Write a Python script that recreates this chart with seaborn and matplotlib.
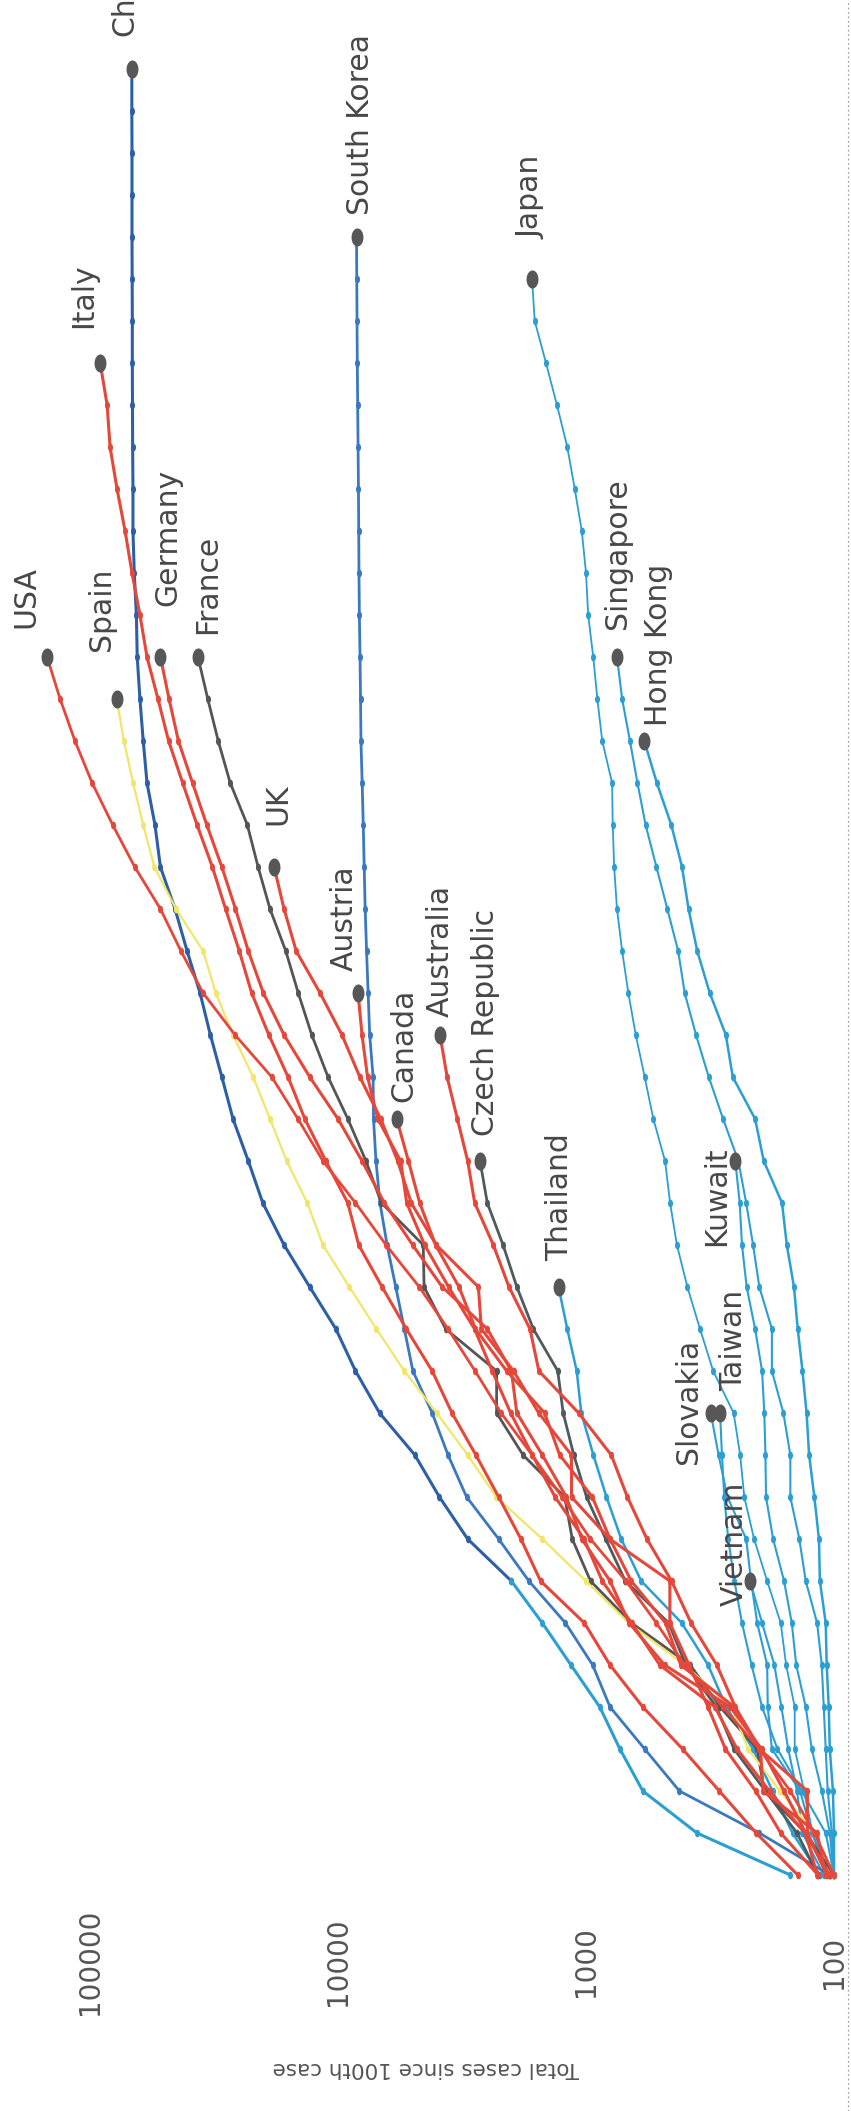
import numpy as np
import pandas as pd
import matplotlib
matplotlib.use("Agg")
import matplotlib.pyplot as plt
from matplotlib.path import Path
from matplotlib.markers import MarkerStyle
from matplotlib.lines import Line2D
from matplotlib.ticker import NullLocator, FixedLocator, FixedFormatter
import seaborn as sns

# Total cases by day, counted from each country's 100th case
china = [150, 357, 590, 730, 880, 1150, 1500, 2000, 3000, 3900, 4900, 6800, 8500, 10200,
         13000, 16500, 20100, 23000, 26500, 29400, 32700, 36000, 40600, 45400, 52000, 54700,
         58900, 61000, 62900, 64500, 65000, 66300, 67100, 67100, 67300, 67400, 67500, 67500,
         67600, 67700, 67700, 67700, 67800, 67800]
south_korea = [104, 200, 420, 580, 800, 940, 1210, 1700, 2250, 3030, 3600, 4170, 4990, 5400,
               5850, 6340, 6770, 7030, 7190, 7220, 7450, 7560, 7670, 7770, 7840, 7910, 7990,
               8080, 8110, 8150, 8200, 8230, 8250, 8270, 8300, 8330, 8360, 8380, 8400, 8420]
japan = [105, 122, 132, 144, 144, 156, 164, 186, 210, 230, 239, 254, 307, 347, 390, 430, 458,
         480, 535, 580, 630, 675, 715, 750, 770, 780, 785, 860, 900, 935, 980, 1000, 1040,
         1110, 1190, 1310, 1450, 1610, 1650]
italy = [140, 206, 290, 408, 590, 800, 1015, 1525, 1830, 2250, 2780, 3470, 4170, 5300, 6640,
         8250, 9130, 11200, 13600, 15900, 19000, 22300, 25000, 28400, 32100, 37000, 42300,
         48200, 53200, 58900, 62900, 67700, 72200, 77800, 83000, 85300, 91000]
usa = [100, 120, 150, 200, 280, 400, 520, 690, 960, 1250, 1650, 2200, 2800, 3600, 4700, 6400,
       8500, 11500, 14500, 18500, 26000, 35000, 43000, 52000, 66000, 81000, 98000, 115000,
       132000, 149000]
spain = [100, 120, 165, 222, 259, 400, 673, 1000, 1500, 2300, 3000, 4000, 5400, 7000, 9000,
         11500, 13300, 16100, 18800, 22000, 26500, 31100, 35000, 45000, 55000, 61000, 67000,
         73000, 78000]
germany = [117, 130, 159, 196, 262, 482, 670, 800, 1040, 1200, 1500, 1900, 2000, 2500, 3800,
           5000, 6500, 8000, 10000, 13000, 16500, 20000, 23000, 25900, 29400, 33800, 38600,
           44000, 48000, 52000]
france = [100, 130, 191, 204, 288, 380, 656, 959, 1136, 1219, 1794, 2293, 2293, 3681, 4496,
          4532, 6683, 7715, 9124, 10970, 12758, 14463, 16243, 18800, 21000, 23200, 27200,
          30400, 33500, 36700]
uk = [116, 164, 207, 274, 322, 384, 459, 459, 802, 1144, 1145, 1551, 1960, 2642, 2716, 4014,
      5067, 5745, 6726, 8164, 9640, 11812, 14745, 16500, 18100]
austria = [104, 131, 182, 246, 302, 504, 655, 860, 1018, 1332, 1646, 2013, 2388, 2814, 3582,
           4474, 5283, 5588, 6909, 7600, 8000, 8300]
canada = [108, 117, 193, 198, 252, 415, 478, 657, 800, 943, 1277, 1469, 2088, 2790, 3251,
          4042, 4682, 5200, 5800]
australia = [107, 128, 128, 200, 250, 297, 377, 452, 568, 681, 791, 1071, 1549, 1682, 2044,
             2364, 2810, 3000, 3300, 3630, 3880]
czech_republic = [116, 141, 189, 253, 298, 396, 464, 694, 833, 995, 1120, 1236, 1300, 1630,
                  1900, 2160, 2500, 2675]
thailand = [114, 147, 177, 212, 272, 322, 411, 599, 721, 827, 934, 1045, 1090, 1190, 1290]
singapore = [100, 102, 106, 108, 110, 112, 117, 130, 138, 150, 150, 160, 178, 178, 200, 212,
             226, 243, 280, 320, 360, 400, 425, 470, 520, 575, 620, 665, 715, 750]
hong_kong = [100, 100, 101, 104, 105, 107, 108, 114, 115, 120, 126, 129, 134, 140, 145, 155,
             162, 192, 208, 256, 273, 317, 356, 386, 410, 453, 518, 582]
kuwait = [100, 104, 112, 123, 130, 142, 148, 159, 176, 188, 189, 191, 195, 208, 225, 235,
          240, 250]
slovakia = [105, 123, 137, 178, 185, 186, 204, 216, 226, 269, 292, 314]
taiwan = [100, 108, 135, 169, 195, 215, 235, 252, 267, 277, 283, 288]
vietnam = [110, 134, 141, 153, 163, 174, 195, 218]

tick_values = [100, 1000, 10000, 100000]
tick_labels = ["100", "1000", "10000", "100000"]
axis_title = "Total cases since 100th case"

RED = "#e5473a"
LBLUE = "#2b9ed4"
GREY = "#555555"

# name, values, colour, line width, label offset (pixels, right edge / bottom of rotated label)
series = [
    ("Vietnam", vietnam, LBLUE, 1.5, (-1, -25)),
    ("Taiwan", taiwan, LBLUE, 1.5, (28, 22)),
    ("Slovakia", slovakia, LBLUE, 1.5, (-8, -51)),
    ("Kuwait", kuwait, LBLUE, 1.5, (-4, -85)),
    ("Hong Kong", hong_kong, LBLUE, 1.8, (29, 15)),
    ("Singapore", singapore, LBLUE, 1.5, (15, 28)),
    ("Japan", japan, LBLUE, 1.3, (13, 40)),
    ("Thailand", thailand, LBLUE, 1.8, (16, 26)),
    ("South Korea", south_korea, "#3a79c0", 2.0, (18, 22)),
    ("China", china, "#2d5fa6", 2.2, (8, 33)),
    ("Czech Republic", czech_republic, "#4f5a5c", 2.0, (20, 25)),
    ("France", france, GREY, 2.0, (24, 23)),
    ("Spain", spain, "#f1e66a", 1.6, (-1, 48)),
    ("Australia", australia, RED, 2.2, (15, 18)),
    ("Canada", canada, RED, 2.2, (22, 17)),
    ("Austria", austria, RED, 2.2, (1, 22)),
    ("UK", uk, RED, 2.2, (18, 42)),
    ("Germany", germany, RED, 2.2, (22, 51)),
    ("Italy", italy, RED, 2.2, (-2, 35)),
    ("USA", usa, RED, 2.0, (-7, 29)),
]
# the opening days of the China line are printed in the lighter blue
china_early_days = 8

rows = []
for name, vals, *_ in series:
    for day, v in enumerate(vals):
        rows.append((name, day, v))
df = pd.DataFrame(rows, columns=["country", "day", "cases"])

sns.set_style("white")
plt.rcParams["font.family"] = ["DejaVu Sans"]

W, H = 851, 2111
fig = plt.figure(figsize=(W / 100, H / 100), dpi=100)
fig.patch.set_facecolor("white")
ax_bottom_px = 1900
ax = fig.add_axes([0, (H - ax_bottom_px) / H, 1, ax_bottom_px / H])
ax.set_facecolor("white")
ax.set_xscale("log")

# vertically stretched dot used for day markers and end points
t = np.linspace(0, 2 * np.pi, 48)
ellipse = Path(np.column_stack([0.66 * np.cos(t), np.sin(t)]))
dot = MarkerStyle(ellipse)


def draw_line(frame, colour, lw):
    sns.lineplot(data=frame, x="cases", y="day", orient="y", sort=False, estimator=None,
                 color=colour, linewidth=lw, marker=dot, markersize=5.5,
                 markeredgewidth=0, legend=False, ax=ax)


for name, vals, colour, lw, _ in series:
    sub = df[df.country == name]
    if name == "China":
        draw_line(sub[sub.day >= china_early_days - 1], colour, lw)
        draw_line(sub[sub.day <= china_early_days - 1], LBLUE, lw)
    else:
        draw_line(sub, colour, lw)

for name, vals, colour, lw, (dx, dy) in series:
    last_day = len(vals) - 1
    ax.plot([vals[-1]], [last_day], linestyle="none", marker=dot, markersize=13,
            color="#575757", markeredgewidth=0, zorder=6)
    ax.annotate(name, xy=(vals[-1], last_day), xytext=(dx, dy), textcoords="offset pixels",
                rotation=90, ha="right", va="bottom", fontsize=21.5, color="#474747",
                annotation_clip=False, zorder=7)

# log axis running right-to-left, days running upward
ax.set_xlim(230600, 85.4)
ax.set_ylim(-0.595, 44.64)
ax.xaxis.set_major_locator(FixedLocator(tick_values))
ax.xaxis.set_major_formatter(FixedFormatter(tick_labels))
ax.xaxis.set_minor_locator(NullLocator())
ax.set_yticks([])
ax.tick_params(axis="x", length=0, pad=44.6, labelsize=20, labelcolor="#555555")
for lbl in ax.get_xticklabels():
    lbl.set_rotation(90)
    lbl.set_va("center")
    lbl.set_ha("center")
ax.set_xlabel(axis_title, rotation=180, labelpad=31, fontsize=15.5, color="#555555")
ax.set_ylabel("")
for s in ax.spines.values():
    s.set_visible(False)

# dotted baseline along the right edge
fig.add_artist(Line2D([848 / W, 848 / W], [0, 1], transform=fig.transFigure,
                      color="#9a9a9a", linewidth=0.8, linestyle=(0, (1.5, 2.5))))

fig.savefig("out.png", dpi=100, facecolor="white")
